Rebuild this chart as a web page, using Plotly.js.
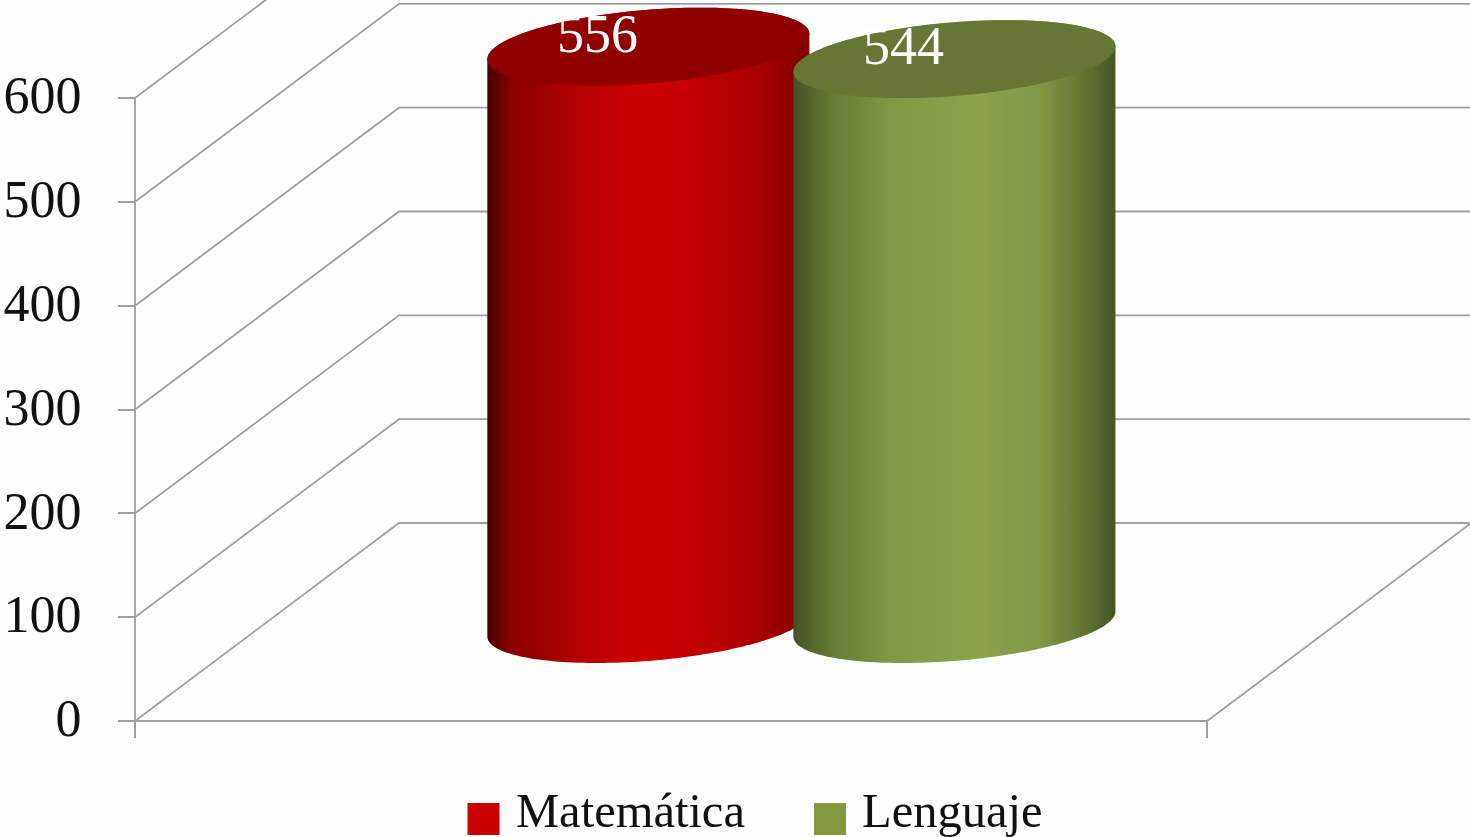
<!DOCTYPE html>
<html>
<head>
<meta charset="utf-8">
<script src="https://cdn.plot.ly/plotly-3.0.1.min.js"></script>
<style>html,body{margin:0;padding:0;background:#fdfdfd;overflow:hidden}#chart{width:1470px;height:837px}</style>
</head>
<body>
<div id="chart"></div>
<script>
// Data
const categories = ['Matemática', 'Lenguaje'];
const values = [556, 544];
const valueTicks = [0, 100, 200, 300, 400, 500, 600];

// Styles
const FONT = 'Liberation Serif';
const TEXT = '#111111';
const LINE = '#9f9f9f';
const legendColors = ['#c80000', '#84993f'];
const topColors = ['#900000', '#677535'];
const bodyScales = [
  [[0, '#480000'], [0.08, '#8a0000'], [0.3, '#b80000'], [0.45, '#cc0000'], [0.62, '#c40000'], [0.85, '#a80000'], [1, '#7c0000']],
  [[0, '#435224'], [0.12, '#667a35'], [0.3, '#809843'], [0.58, '#8da44c'], [0.78, '#7f9542'], [0.92, '#5d6f30'], [1, '#445424']]
];

// Pixel <-> axis layout: the axes span the whole page, the frame sits inside it
const W = 1470, H = 837;
const AX_L = 135, AX_R = 1207, AX_B = 721, AX_T = 98;
const pxPerX = AX_R - AX_L, pxPerVal = (AX_B - AX_T) / 600;
const X = px => (px - AX_L) / pxPerX;
const Y = py => (AX_B - py) / pxPerVal;

// Oblique projection: x (0..1), value, depth (0..1) -> axis coordinates
const DEPTH_X = 264 / pxPerX, DEPTH_Y = 198 / pxPerVal;
const proj = (x, v, d) => [x + d * DEPTH_X, v + d * DEPTH_Y];

const traces = [];

// Walls and floor
const gx = [], gy = [];
const addPath = pts => {
  pts.forEach(p => {
    const q = proj(p[0], p[1], p[2]); gx.push(q[0]); gy.push(q[1]);
  });
  gx.push(null); gy.push(null);
};
valueTicks.forEach(v => addPath([[0, v, 0], [0, v, 1], [1, v, 1]]));
addPath([[0, 0, 0], [1, 0, 0], [1, 0, 1]]);
addPath([[0, 0, 0], [0, valueTicks[valueTicks.length - 1], 0]]);
traces.push({x: gx, y: gy, type: 'scatter', mode: 'lines',
  line: {color: LINE, width: 1.8}, hoverinfo: 'skip', showlegend: false});

// Cylinders
const centers = [0.3582, 0.6437];      // front-plane x of each cylinder axis
const DEPTH_C = 0.49, R_X = 152.4 / pxPerX, R_D = 0.197;
const tangent = Math.atan2(R_D * 264, 152.4);
const rim = (cx, v, t) => proj(cx + R_X * Math.cos(t), v, DEPTH_C + R_D * Math.sin(t));
const arc = (cx, v, a, b) => {
  const out = [], n = 90;
  for (let i = 0; i <= n; i++) out.push(rim(cx, v, a + (b - a) * i / n));
  return out;
};

categories.forEach((name, i) => {
  const cx = centers[i], v = values[i];
  const body = arc(cx, 0, tangent + Math.PI, tangent + 2 * Math.PI)
    .concat(arc(cx, v, tangent, tangent + Math.PI));
  traces.push({x: body.map(p => p[0]), y: body.map(p => p[1]), type: 'scatter', mode: 'none',
    fill: 'toself', fillcolor: legendColors[i],
    fillgradient: {type: 'horizontal', colorscale: bodyScales[i]},
    hoverinfo: 'skip', showlegend: false, name: name});
  const top = arc(cx, v, 0, 2 * Math.PI);
  traces.push({x: top.map(p => p[0]), y: top.map(p => p[1]), type: 'scatter', mode: 'none',
    fill: 'toself', fillcolor: topColors[i],
    hoverinfo: 'skip', showlegend: false, name: name});
});

// Hand-built legend (native swatches cannot reach this size)
const legendSwatchPx = [483.5, 830];
const legendTextPx = [514, 860];
const LEGEND_Y = 819;
traces.push({x: legendSwatchPx.map(X), y: legendSwatchPx.map(() => Y(LEGEND_Y)),
  type: 'scatter', mode: 'markers',
  marker: {symbol: 'square', size: 32, color: legendColors, line: {width: 0}},
  hoverinfo: 'skip', showlegend: false});

const annotations = [];
categories.forEach((name, i) => {
  annotations.push({x: X(legendTextPx[i]), y: Y(LEGEND_Y - 9), xref: 'x', yref: 'y', text: name,
    showarrow: false, xanchor: 'left', yanchor: 'middle',
    font: {family: FONT, size: 48.5, color: TEXT}});
  const c = proj(centers[i], values[i], DEPTH_C);
  annotations.push({x: c[0], y: c[1], xref: 'x', yref: 'y', text: String(values[i]),
    showarrow: false, xanchor: 'center', yanchor: 'middle', xshift: -51, yshift: 13,
    font: {family: FONT, size: 54, color: '#ffffff'}});
});

const layout = {
  width: W, height: H,
  margin: {l: 0, r: 0, t: 0, b: 0},
  paper_bgcolor: '#fdfdfd', plot_bgcolor: 'rgba(0,0,0,0)',
  showlegend: false,
  font: {family: FONT, color: TEXT},
  xaxis: {
    range: [X(0), X(W)], fixedrange: true,
    anchor: 'free', position: (H - AX_B) / H,
    showgrid: false, zeroline: false, showline: false,
    tickmode: 'array', tickvals: [0, 1], ticks: 'outside', ticklen: 16, tickcolor: LINE, tickwidth: 2,
    showticklabels: false
  },
  yaxis: {
    range: [Y(H), Y(0)], fixedrange: true,
    anchor: 'free', position: AX_L / W,
    showgrid: false, zeroline: false, showline: false,
    tickmode: 'array', tickvals: valueTicks, ticktext: valueTicks.map(String),
    ticks: 'outside', ticklen: 17, tickcolor: LINE, tickwidth: 2,
    ticklabelstandoff: 26, ticklabelshift: -3,
    tickfont: {family: FONT, size: 52, color: TEXT}
  },
  annotations: annotations
};

Plotly.newPlot('chart', traces, layout, {displayModeBar: false, staticPlot: true});
</script>
</body>
</html>
